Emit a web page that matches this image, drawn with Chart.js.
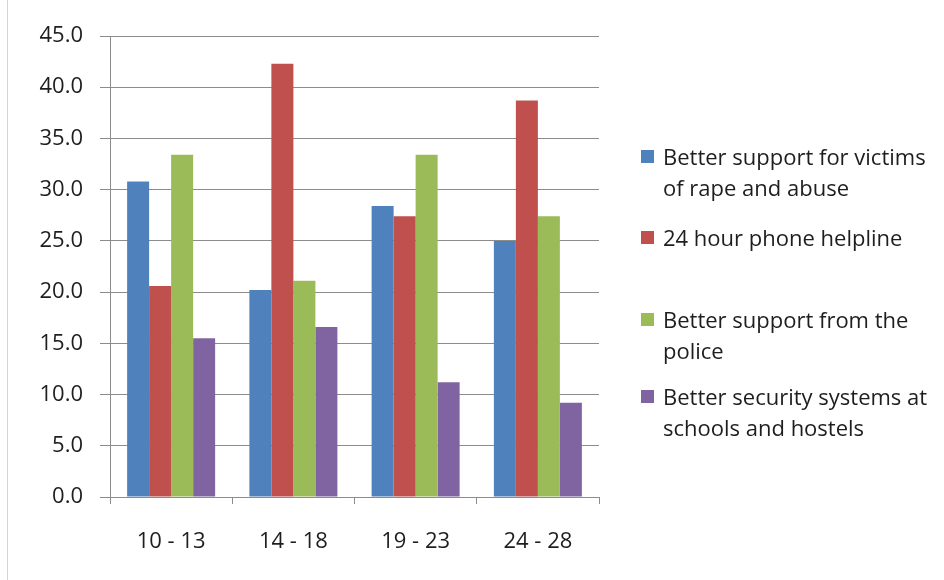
<!DOCTYPE html>
<html>
<head>
<meta charset="utf-8">
<script src="https://cdn.jsdelivr.net/npm/chart.js@4"></script>
<style>
  html, body { margin: 0; padding: 0; background: #fff; }
  .wrap { position: relative; width: 944px; height: 580px; }
  .frame { position: absolute; left: 7px; top: 0; width: 1px; height: 580px; background: #d4d4d4; }
  canvas { position: absolute; left: 0; top: 0; }
  .legend { position: absolute; left: 641px; top: 0; font-family: 'Open Sans', sans-serif; font-size: 22px; color: #1e1e1e; }
  .legend-item { position: absolute; left: 0; width: 303px; line-height: 31px; }
  .legend-item .box { position: absolute; left: 0; top: 9px; width: 13px; height: 13px; }
  .legend-item .txt { margin-left: 22px; width: 280px; }
</style>
</head>
<body>
<div class="wrap">
  <div class="frame"></div>
  <canvas id="chart" width="944" height="580"></canvas>
  <div class="legend" id="legend"></div>
</div>
<script>
var ageGroups = ['10 - 13', '14 - 18', '19 - 23', '24 - 28'];
var seriesNames = [
  'Better support for victims of rape and abuse',
  '24 hour phone helpline',
  'Better support from the police',
  'Better security systems at schools and hostels'
];
var victimsSupport = [30.8, 20.2, 28.4, 25.0];
var phoneHelpline = [20.6, 42.3, 27.4, 38.7];
var policeSupport = [33.4, 21.1, 33.4, 27.4];
var securitySystems = [15.5, 16.6, 11.2, 9.2];
var yTicks = [0, 5, 10, 15, 20, 25, 30, 35, 40, 45];

var seriesColors = ['#4F81BD', '#C0504D', '#9BBB59', '#8064A2'];
var legendTops = [141, 222, 304, 381];

var ctx = document.getElementById('chart').getContext('2d');
var gridColor = '#8c8c8c';
var tickFont = { family: "'Open Sans', sans-serif", size: 22 };

var chart = new Chart(ctx, {
  type: 'bar',
  data: {
    labels: ageGroups,
    datasets: [victimsSupport, phoneHelpline, policeSupport, securitySystems].map(function(values, i){
      return {
        label: seriesNames[i],
        data: values,
        backgroundColor: seriesColors[i],
        categoryPercentage: 0.72,
        barPercentage: 1.0
      };
    })
  },
  options: {
    responsive: false,
    animation: false,
    layout: {
      padding: { left: 0, right: 345, top: 36, bottom: 0 }
    },
    plugins: {
      legend: { display: false },
      tooltip: { enabled: false }
    },
    scales: {
      x: {
        grid: {
          drawOnChartArea: false,
          drawTicks: true,
          tickLength: 7,
          color: gridColor
        },
        border: { display: true, color: gridColor, width: 1 },
        ticks: {
          color: '#1e1e1e',
          padding: 25,
          font: tickFont
        },
        afterFit: function(scale){ scale.height = 83; }
      },
      y: {
        min: 0,
        max: 45,
        afterBuildTicks: function(scale){
          scale.ticks = yTicks.map(function(v){ return { value: v }; });
        },
        grid: {
          color: gridColor,
          tickLength: 10
        },
        border: { display: true, color: gridColor, width: 1 },
        ticks: {
          color: '#1e1e1e',
          padding: 17,
          font: tickFont,
          callback: function(v){ return Number(v).toFixed(1); }
        },
        afterFit: function(scale){ scale.width = 110; }
      }
    }
  }
});

// html legend built from the datasets, so long names can wrap
var legendEl = document.getElementById('legend');
chart.data.datasets.forEach(function(ds, i){
  var item = document.createElement('div');
  item.className = 'legend-item';
  item.style.top = legendTops[i] + 'px';
  var box = document.createElement('span');
  box.className = 'box';
  box.style.background = ds.backgroundColor;
  var txt = document.createElement('div');
  txt.className = 'txt';
  txt.textContent = ds.label;
  item.appendChild(box);
  item.appendChild(txt);
  legendEl.appendChild(item);
});
</script>
</body>
</html>
